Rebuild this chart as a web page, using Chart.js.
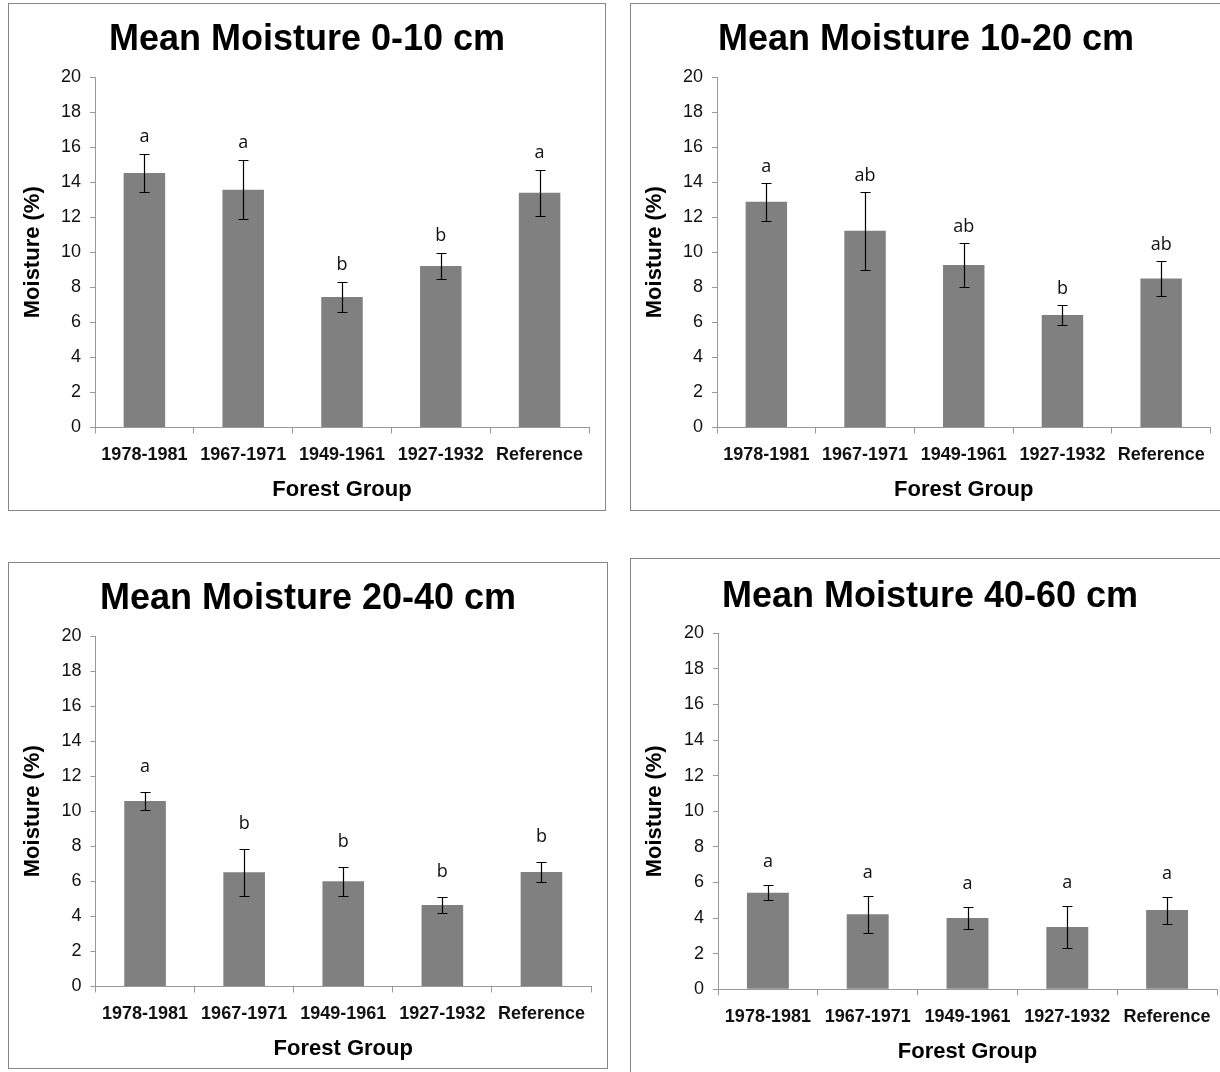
<!DOCTYPE html>
<html>
<head>
<meta charset="utf-8">
<title>Mean Moisture by Forest Group</title>
<script src="https://cdn.jsdelivr.net/npm/chart.js@4.4.1/dist/chart.umd.min.js"></script>
<style>
  html, body { margin: 0; padding: 0; background: #fff; overflow: hidden; }
  body { width: 1220px; height: 1072px; position: relative; }
  .panel { position: absolute; box-sizing: border-box; border: 1px solid #868686; background: #fff; }
  .panel canvas { display: block; }
</style>
</head>
<body>
<div class="panel" id="panel-1"><canvas id="chart-1"></canvas></div>
<div class="panel" id="panel-2"><canvas id="chart-2"></canvas></div>
<div class="panel" id="panel-3"><canvas id="chart-3"></canvas></div>
<div class="panel" id="panel-4"><canvas id="chart-4"></canvas></div>
<script>
const forestGroups = ["1978-1981", "1967-1971", "1949-1961", "1927-1932", "Reference"];
const yTicks = { min: 0, max: 20, step: 2 };

const titles = [
  "Mean Moisture 0-10 cm",
  "Mean Moisture 10-20 cm",
  "Mean Moisture 20-40 cm",
  "Mean Moisture 40-60 cm",
];

const mean0to10 = [14.52, 13.57, 7.45, 9.22, 13.4];
const err0to10 = [1.08, 1.68, 0.87, 0.72, 1.32];
const letters0to10 = ["a", "a", "b", "b", "a"];

const mean10to20 = [12.88, 11.22, 9.27, 6.42, 8.5];
const err10to20 = [1.08, 2.24, 1.28, 0.56, 0.99];
const letters10to20 = ["a", "ab", "ab", "b", "ab"];

const mean20to40 = [10.58, 6.52, 6.0, 4.65, 6.54];
const err20to40 = [0.51, 1.33, 0.82, 0.44, 0.59];
const letters20to40 = ["a", "b", "b", "b", "b"];

const mean40to60 = [5.42, 4.22, 4.01, 3.5, 4.45];
const err40to60 = [0.42, 1.03, 0.6, 1.2, 0.76];
const letters40to60 = ["a", "a", "a", "a", "a"];

// page geometry: panel box [left, top, width, height], plot area [left, top, right, bottom]
const panels = [
  { box: [8, 3, 598, 508], plot: [95, 77, 589, 427.5], letterGap: 13 },
  { box: [630, 3, 592, 508], plot: [717, 77, 1210.5, 427.5], letterGap: 12 },
  { box: [8, 562, 600, 507], plot: [95.5, 636, 591, 986.5], letterGap: 21 },
  { box: [630, 558, 600, 520], plot: [718, 633.3, 1217, 989.3], letterGap: 19 },
];

const FONT = "'Liberation Sans', Arial, Helvetica, sans-serif";
const AXIS_GREY = "#999999";

function errorBarPlugin(errors, letters, letterGap) {
  return {
    id: "errorBars",
    afterDatasetsDraw(chart) {
      const { ctx } = chart;
      const y = chart.scales.y;
      const values = chart.data.datasets[0].data;
      const meta = chart.getDatasetMeta(0);
      ctx.save();
      ctx.strokeStyle = "#000";
      ctx.lineWidth = 1.2;
      ctx.fillStyle = "#111";
      ctx.font = "18px 'Open Sans', 'Noto Sans', sans-serif";
      ctx.textAlign = "center";
      ctx.textBaseline = "alphabetic";
      meta.data.forEach((bar, i) => {
        const hi = Math.round(y.getPixelForValue(values[i] + errors[i])) + 0.5;
        const lo = Math.round(y.getPixelForValue(values[i] - errors[i])) + 0.5;
        const x = Math.round(bar.x) + 0.5;
        ctx.beginPath();
        ctx.moveTo(x, hi);
        ctx.lineTo(x, lo);
        ctx.moveTo(x - 5, hi);
        ctx.lineTo(x + 5, hi);
        ctx.moveTo(x - 5, lo);
        ctx.lineTo(x + 5, lo);
        ctx.stroke();
        ctx.fillText(letters[i], bar.x, hi - letterGap);
      });
      ctx.restore();
    },
  };
}

function drawPanel(index, title, values, errors, letters) {
  const p = panels[index];
  const div = document.getElementById(`panel-${index + 1}`);
  div.style.left = `${p.box[0]}px`;
  div.style.top = `${p.box[1]}px`;
  div.style.width = `${p.box[2]}px`;
  div.style.height = `${p.box[3]}px`;

  const ox = p.box[0] + 1;
  const oy = p.box[1] + 1;
  const width = p.box[2] - 2;
  const height = p.box[3] - 2;
  const left = p.plot[0] - ox;
  const top = p.plot[1] - oy;
  const right = p.plot[2] - ox;
  const bottom = p.plot[3] - oy;
  const xAxisHeight = 79.7;

  const canvas = document.getElementById(`chart-${index + 1}`);
  canvas.width = width;
  canvas.height = height;

  new Chart(canvas, {
    type: "bar",
    data: {
      labels: forestGroups,
      datasets: [
        {
          label: title,
          data: values,
          backgroundColor: "#808080",
          borderWidth: 0,
          barPercentage: 0.42,
          categoryPercentage: 1,
        },
      ],
    },
    options: {
      responsive: false,
      devicePixelRatio: 1,
      animation: false,
      layout: {
        padding: { left: 0, top: 0, right: 0, bottom: Math.max(height - bottom - xAxisHeight, 0) },
      },
      plugins: {
        legend: { display: false },
        tooltip: { enabled: false },
        title: {
          display: true,
          text: title,
          color: "#000",
          font: { family: FONT, size: 36, weight: "bold", lineHeight: 1.2 },
          padding: { top: top - 58.3, bottom: 15.1 },
        },
      },
      scales: {
        x: {
          grid: { display: true, offset: true, drawOnChartArea: false, drawTicks: true, tickLength: 6, color: AXIS_GREY },
          border: { display: true, color: AXIS_GREY, width: 1 },
          ticks: {
            color: "#111",
            font: { family: FONT, size: 18, weight: "bold", lineHeight: 1.2 },
            padding: 11,
            autoSkip: false,
            maxRotation: 0,
            minRotation: 0,
          },
          title: {
            display: true,
            text: "Forest Group",
            color: "#000",
            font: { family: FONT, size: 22, weight: "bold", lineHeight: 1.2 },
            padding: { top: 0, bottom: 4 },
          },
          afterFit: (scale) => {
            scale.height = xAxisHeight;
          },
        },
        y: {
          min: yTicks.min,
          max: yTicks.max,
          grid: { drawOnChartArea: false, drawTicks: true, tickLength: 5, color: AXIS_GREY },
          border: { display: true, color: AXIS_GREY, width: 1 },
          ticks: {
            stepSize: yTicks.step,
            color: "#111",
            font: { family: FONT, size: 18, lineHeight: 1.2 },
            padding: 9,
          },
          title: {
            display: true,
            text: "Moisture (%)",
            color: "#000",
            font: { family: FONT, size: 22, weight: "bold", lineHeight: 1.2 },
            padding: { top: 10.8, bottom: 0 },
          },
          afterFit: (scale) => {
            scale.width = left;
          },
        },
        // empty right-hand box so the title stays centred on the whole panel
        yGap: {
          type: "linear",
          position: "right",
          grid: { display: false, drawTicks: false },
          border: { display: false },
          ticks: { display: false },
          afterFit: (scale) => {
            scale.width = width - right;
          },
        },
      },
    },
    plugins: [errorBarPlugin(errors, letters, p.letterGap)],
  });
}

drawPanel(0, titles[0], mean0to10, err0to10, letters0to10);
drawPanel(1, titles[1], mean10to20, err10to20, letters10to20);
drawPanel(2, titles[2], mean20to40, err20to40, letters20to40);
drawPanel(3, titles[3], mean40to60, err40to60, letters40to60);
</script>
</body>
</html>
